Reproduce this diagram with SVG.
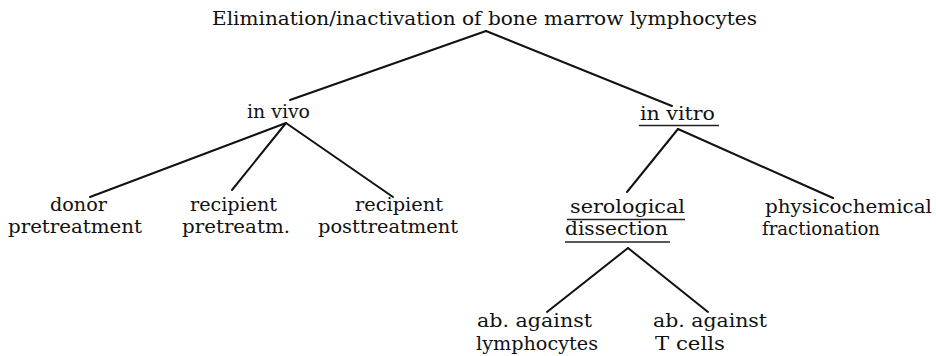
<svg xmlns="http://www.w3.org/2000/svg" width="936" height="356" viewBox="0 0 936 356">
<style>
text{font-family:"DejaVu Serif","Liberation Serif",serif;font-size:18px;fill:#111}
.c line{stroke:#111;stroke-width:2;stroke-linecap:round}
.u{stroke:#222;stroke-width:1.5}
</style>
<rect width="936" height="356" fill="#fff"/>
<g class="c" id="connectors">
<line x1="486" y1="31" x2="290" y2="100"/>
<line x1="486" y1="31" x2="672" y2="106"/>
<line x1="286" y1="123" x2="90" y2="197"/>
<line x1="286" y1="123" x2="232" y2="190"/>
<line x1="286" y1="123" x2="393" y2="197"/>
<line x1="678" y1="129" x2="627" y2="192"/>
<line x1="678" y1="129" x2="833" y2="198"/>
<line x1="628" y1="248" x2="547" y2="312"/>
<line x1="628" y1="248" x2="708" y2="312"/>
</g>
<g id="root"><text x="212" y="25" textLength="545" lengthAdjust="spacingAndGlyphs">Elimination/inactivation of bone marrow lymphocytes</text></g>
<g id="invivo"><text x="247" y="118" textLength="63" lengthAdjust="spacingAndGlyphs">in vivo</text></g>
<g id="invitro"><text x="640" y="120" textLength="75" lengthAdjust="spacingAndGlyphs">in vitro</text><line class="u" x1="639" y1="125.5" x2="719" y2="125.5"/></g>
<g id="donor"><text x="50" y="211" textLength="57" lengthAdjust="spacingAndGlyphs">donor</text><text x="8" y="233" textLength="134" lengthAdjust="spacingAndGlyphs">pretreatment</text></g>
<g id="recpre"><text x="190" y="211" textLength="87" lengthAdjust="spacingAndGlyphs">recipient</text><text x="182" y="233" textLength="108" lengthAdjust="spacingAndGlyphs">pretreatm.</text></g>
<g id="recpost"><text x="355" y="211" textLength="88" lengthAdjust="spacingAndGlyphs">recipient</text><text x="318" y="233" textLength="140" lengthAdjust="spacingAndGlyphs">posttreatment</text></g>
<g id="sero"><text x="570" y="213" textLength="115" lengthAdjust="spacingAndGlyphs">serological</text><line class="u" x1="567" y1="219.5" x2="685" y2="219.5"/><text x="565" y="235" textLength="103" lengthAdjust="spacingAndGlyphs">dissection</text><line class="u" x1="565" y1="242" x2="670" y2="242"/></g>
<g id="physico"><text x="765" y="213" textLength="167" lengthAdjust="spacingAndGlyphs">physicochemical</text><text x="762" y="235" textLength="118" lengthAdjust="spacingAndGlyphs">fractionation</text></g>
<g id="ablymph"><text x="477" y="327" textLength="115" lengthAdjust="spacingAndGlyphs">ab. against</text><text x="476" y="350" textLength="122" lengthAdjust="spacingAndGlyphs">lymphocytes</text></g>
<g id="abt"><text x="653" y="327" textLength="114" lengthAdjust="spacingAndGlyphs">ab. against</text><text x="655" y="350" textLength="70" lengthAdjust="spacingAndGlyphs">T cells</text></g>
</svg>
